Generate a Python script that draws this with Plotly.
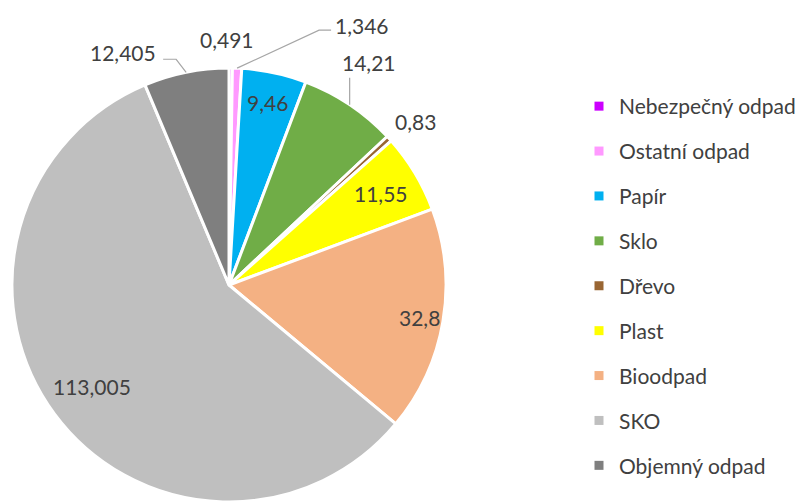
import math
import plotly.graph_objects as go

categories = ["Nebezpečný odpad", "Ostatní odpad", "Papír", "Sklo", "Dřevo",
              "Plast", "Bioodpad", "SKO", "Objemný odpad"]
values = [0.491, 1.346, 9.46, 14.21, 0.83, 11.55, 32.8, 113.005, 12.405]
colors = ["#CC00FF", "#FF99FF", "#00B0F0", "#70AD47", "#996633",
          "#FFFF00", "#F4B183", "#BFBFBF", "#7F7F7F"]

# label placement style (Excel-like): inside radial factor or outside pixel offset
inside_r = {2: 0.86, 5: 0.82, 6: 0.89, 7: 0.785}
outside_off = {0: (-4, -29), 1: (125, -43), 3: (19, -42), 4: (26, -17), 8: (-63, -20)}
leader_pts = {1: [(82, -38), (94, -38)], 3: [(0, -27)], 8: [(-10, -13), (-23, -13)]}

text = [str(v).replace(".", ",") for v in values]
PAGE = 8                      # default body margin of the html page
W, H = 809 - PAGE, 502 - PAGE
FONT = "Lato"
TXT = "#404040"
CX, CY, R = 229 - PAGE, 285 - PAGE, 217   # figure pixel coordinates


def to_paper(x, y):
    return x / W, 1 - y / H


fig = go.Figure()
fig.add_trace(go.Pie(
    labels=categories, values=values, textinfo="none",
    sort=False, direction="clockwise", rotation=0,
    marker=dict(colors=colors, line=dict(color="white", width=3)),
    showlegend=False,
    domain=dict(x=[(CX - R) / W, (CX + R) / W],
                y=[max(0, 1 - (CY + R) / H), 1 - (CY - R) / H]),
))

for c, col in zip(categories, colors):
    fig.add_trace(go.Scatter(
        x=[None], y=[None], mode="markers", name=c, legendgroup=c,
        marker=dict(symbol="square", size=9, color=col),
    ))

total = sum(values)
cum = 0.0
for i, v in enumerate(values):
    th = 2 * math.pi * (cum + v / 2) / total
    cum += v
    s, c = math.sin(th), math.cos(th)
    if i in inside_r:
        r = inside_r[i] * R
        px, py = CX + r * s, CY - r * c
    else:
        ex, ey = CX + R * s, CY - R * c
        dx, dy = outside_off[i]
        px, py = ex + dx, ey + dy
        if i in leader_pts:
            pts = [(ex, ey)] + [(ex + a, ey + b) for a, b in leader_pts[i]]
            path = ""
            for k, (a, b) in enumerate(pts):
                xa, ya = to_paper(a, b)
                path += ("M" if k == 0 else "L") + f"{xa:.5f},{ya:.5f}"
            fig.add_shape(type="path", path=path, xref="paper", yref="paper",
                          line=dict(color="#A6A6A6", width=1.2))
    ax, ay = to_paper(px, py)
    fig.add_annotation(x=ax, y=ay, xref="paper", yref="paper", text=text[i],
                       showarrow=False, xanchor="center", yanchor="middle",
                       font=dict(family=FONT, size=21, color=TXT))

fig.update_layout(
    width=W, height=H, margin=dict(l=0, r=0, t=0, b=0, autoexpand=False),
    paper_bgcolor="white", plot_bgcolor="white",
    xaxis=dict(visible=False), yaxis=dict(visible=False),
    legend=dict(x=571 / W, y=1 - 78 / H, xanchor="left", yanchor="top",
                font=dict(family=FONT, size=21, color=TXT),
                tracegroupgap=14.6, itemwidth=30, bgcolor="rgba(0,0,0,0)"),
)
fig.write_html("out.html")
